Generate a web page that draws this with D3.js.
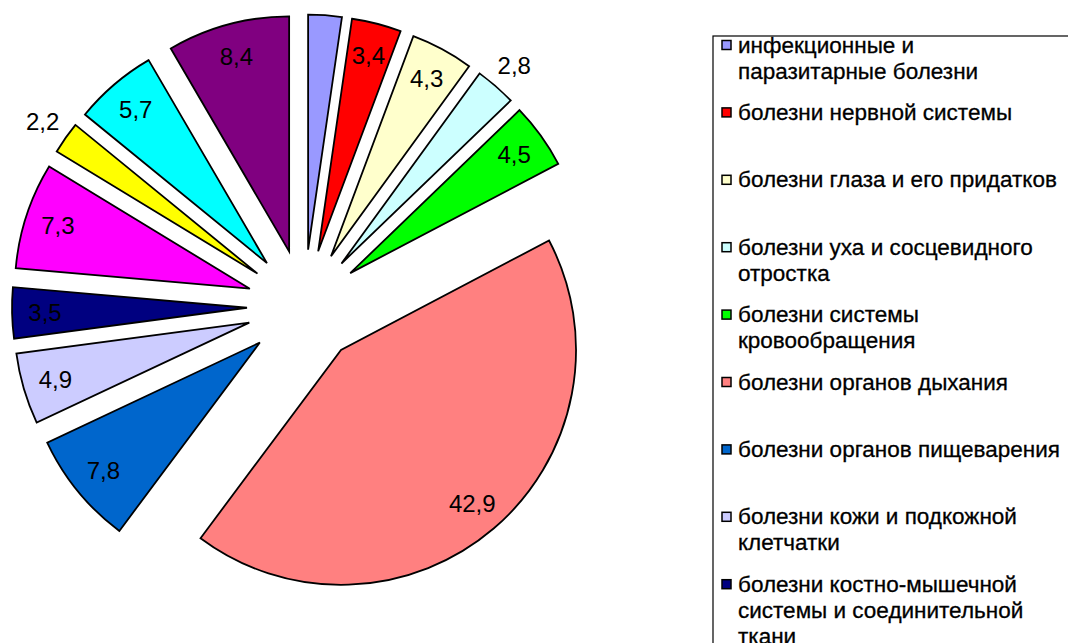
<!DOCTYPE html>
<html>
<head>
<meta charset="utf-8">
<script src="https://cdn.jsdelivr.net/npm/d3@7"></script>
<style>
  html, body { margin: 0; padding: 0; background: #fff; }
  svg { display: block; font-family: "Liberation Sans", Arial, sans-serif; }
</style>
</head>
<body>
<svg id="chart" width="1068" height="643"></svg>
<script>
// ---- data ----
const categories = [
  "инфекционные и\nпаразитарные болезни",
  "болезни нервной системы",
  "болезни глаза и его придатков",
  "болезни уха и сосцевидного\nотростка",
  "болезни системы\nкровообращения",
  "болезни органов дыхания",
  "болезни органов пищеварения",
  "болезни кожи и подкожной\nклетчатки",
  "болезни костно-мышечной\nсистемы и соединительной\nткани",
  "болезни мочеполовой\nсистемы",
  "врожденные аномалии",
  "травмы и отравления",
  "прочие"
];
const values = [2.3, 3.4, 4.3, 2.8, 4.5, 42.9, 7.8, 4.9, 3.5, 7.3, 2.2, 5.7, 8.4];
const labels = ["2,3", "3,4", "4,3", "2,8", "4,5", "42,9", "7,8", "4,9", "3,5", "7,3", "2,2", "5,7", "8,4"];
const colors = ["#9999FF", "#FF0000", "#FFFFCC", "#CCFFFF", "#00FF00", "#FF8080",
                "#0066CC", "#CCCCFF", "#000080", "#FF00FF", "#FFFF00", "#00FFFF", "#800080"];

// ---- layout ----
const W = 1068, H = 643;
const svg = d3.select("#chart");
const cx = 304, cy = 306.5, R = 235, explode = 57;

const pie = d3.pie().sort(null).value(d => d.v);
const arc = d3.arc().innerRadius(0).outerRadius(R);
const data = values.map((v, i) => ({ v, i }));
const arcs = pie(data);

const g = svg.append("g").attr("transform", `translate(${cx},${cy})`);

const mid = d => (d.startAngle + d.endAngle) / 2;
const offX = d => explode * Math.sin(mid(d));
const offY = d => -explode * Math.cos(mid(d));
const labK = d => d.data.v < 3 ? 1.12 : 0.86;
const labX = d => offX(d) + labK(d) * R * Math.sin(mid(d));
const labY = d => offY(d) - labK(d) * R * Math.cos(mid(d));

const slice = g.selectAll("g.slice").data(arcs).enter().append("g")
  .attr("class", "slice")
  .attr("transform", d => `translate(${offX(d)},${offY(d)})`);

slice.append("path")
  .attr("d", arc)
  .attr("fill", d => colors[d.data.i])
  .attr("stroke", "#000")
  .attr("stroke-width", 1.8)
  .attr("stroke-linejoin", "miter");

// data labels (those that fall outside the picture, as in the original, are not drawn)
g.selectAll("text.lab").data(arcs.filter(d => cy + labY(d) > 12)).enter().append("text")
  .attr("class", "lab")
  .attr("x", labX)
  .attr("y", labY)
  .attr("text-anchor", "middle")
  .attr("dominant-baseline", "central")
  .attr("font-size", 24)
  .attr("fill", "#000")
  .text(d => labels[d.data.i]);

// ---- legend ----
const lg = svg.append("g");
const legX = 713, legY = 36;
lg.append("rect")
  .attr("x", legX).attr("y", legY)
  .attr("width", 420).attr("height", 900)
  .attr("fill", "#fff").attr("stroke", "#000").attr("stroke-width", 1.2);

const itemStep = 67.4, firstY = 45, lineH = 26;
const legendItems = categories.map((c, i) => ({ c, i, y: firstY + i * itemStep }))
  .filter(d => d.y < H);   // entries below the picture's edge are not visible

const items = lg.selectAll("g.item").data(legendItems).enter().append("g")
  .attr("class", "item")
  .attr("transform", d => `translate(0,${d.y})`);

items.append("rect")
  .attr("x", 722).attr("y", -4.5)
  .attr("width", 9).attr("height", 9)
  .attr("fill", d => colors[d.i])
  .attr("stroke", "#000").attr("stroke-width", 1.5);

items.append("text")
  .attr("x", 738)
  .attr("font-size", 22.5)
  .attr("fill", "#000")
  .attr("stroke", "#000")
  .attr("stroke-width", 0.3)
  .each(function(d) {
    const t = d3.select(this);
    d.c.split("\n").forEach((line, j) => {
      t.append("tspan")
        .attr("x", 738)
        .attr("y", j * lineH)
        .attr("dominant-baseline", "central")
        .text(line);
    });
  });
</script>
</body>
</html>
